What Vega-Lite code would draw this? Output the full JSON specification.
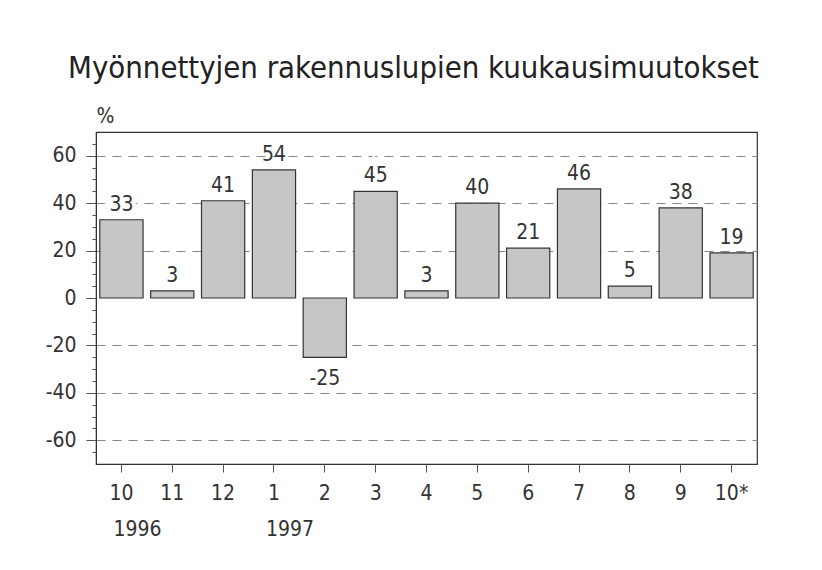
{
  "$schema": "https://vega.github.io/schema/vega-lite/v6.json",
  "autosize": "none",
  "width": 661,
  "height": 332,
  "padding": {"left": 96, "top": 132, "right": 65, "bottom": 106},
  "background": "white",
  "config": {
    "font": "DejaVu Sans Condensed, sans-serif",
    "view": {"stroke": "#333", "strokeWidth": 1.2},
    "axis": {"labelFont": "DejaVu Sans Condensed, sans-serif", "titleFont": "DejaVu Sans Condensed, sans-serif"}
  },
  "title": {
    "text": "Myönnettyjen rakennuslupien kuukausimuutokset",
    "font": "DejaVu Sans Condensed, sans-serif",
    "fontSize": 30.8,
    "fontWeight": "normal",
    "color": "#222",
    "anchor": "start",
    "frame": "group",
    "dx": -28,
    "offset": 20
  },
  "data": {
    "values": [
      {"month": "10", "value": 33, "year": "1996"},
      {"month": "11", "value": 3, "year": ""},
      {"month": "12", "value": 41, "year": ""},
      {"month": "1", "value": 54, "year": "1997"},
      {"month": "2", "value": -25, "year": ""},
      {"month": "3", "value": 45, "year": ""},
      {"month": "4", "value": 3, "year": ""},
      {"month": "5", "value": 40, "year": ""},
      {"month": "6", "value": 21, "year": ""},
      {"month": "7", "value": 46, "year": ""},
      {"month": "8", "value": 5, "year": ""},
      {"month": "9", "value": 38, "year": ""},
      {"month": "10*", "value": 19, "year": ""}
    ]
  },
  "encoding": {
    "x": {
      "field": "month",
      "type": "nominal",
      "sort": null,
      "scale": {"paddingInner": 0.15, "paddingOuter": 0.075},
      "axis": {
        "title": null,
        "labelAngle": 0,
        "labelFontSize": 21,
        "labelColor": "#333",
        "labelPadding": 10,
        "tickSize": 8,
        "tickColor": "#555",
        "domain": false
      }
    }
  },
  "layer": [
    {
      "mark": {"type": "bar", "fill": "#c6c6c6", "stroke": "#333", "strokeWidth": 1.2},
      "encoding": {
        "y": {
          "field": "value",
          "type": "quantitative",
          "scale": {"domain": [-70, 70], "nice": false},
          "axis": {
            "title": "%",
            "titleAngle": 0,
            "titleFontSize": 21,
            "titleFontWeight": "normal",
            "titleColor": "#333",
            "titleAlign": "left",
            "titleBaseline": "alphabetic",
            "titleX": 0,
            "titleY": -10,
            "values": [-65,-60,-55,-50,-45,-40,-35,-30,-25,-20,-15,-10,-5,0,5,10,15,20,25,30,35,40,45,50,55,60,65],
            "tickCount": 60,
            "labelOverlap": false,
            "labelExpr": "datum.value % 20 === 0 ? '' + datum.value : ''",
            "labelFontSize": 21,
            "labelColor": "#333",
            "labelPadding": 10,
            "tickSize": {"condition": {"test": "datum.value % 20 === 0", "value": 10}, "value": 4},
            "tickColor": "#555",
            "domainColor": "#333",
            "grid": true,
            "gridColor": "#888",
            "gridDash": [9, 7],
            "gridWidth": 1.2,
            "gridOpacity": {"condition": {"test": "datum.value % 20 === 0 && datum.value !== 0", "value": 1}, "value": 0}
          }
        }
      }
    },
    {
      "mark": {"type": "rule", "color": "#222", "strokeWidth": 1.3},
      "encoding": {"y": {"datum": 0}}
    },
    {
      "transform": [{"filter": "datum.value >= 0 && datum.value < 50"}],
      "mark": {"type": "text", "baseline": "alphabetic", "dy": -9, "fontSize": 21, "stroke": "white", "strokeWidth": 8, "fill": "white"},
      "encoding": {"y": {"field": "value", "type": "quantitative"}, "text": {"field": "value"}}
    },
    {
      "transform": [{"filter": "datum.value >= 0"}],
      "mark": {"type": "text", "baseline": "alphabetic", "dy": -9, "fontSize": 21, "color": "#333"},
      "encoding": {"y": {"field": "value", "type": "quantitative"}, "text": {"field": "value"}}
    },
    {
      "transform": [{"filter": "datum.value < 0"}],
      "mark": {"type": "text", "baseline": "top", "dy": 11, "fontSize": 21, "color": "#333"},
      "encoding": {"y": {"field": "value", "type": "quantitative"}, "text": {"field": "value"}}
    },
    {
      "transform": [{"filter": "datum.year !== ''"}],
      "mark": {"type": "text", "align": "left", "baseline": "alphabetic", "dx": -8, "dy": 72, "fontSize": 21, "color": "#333"},
      "encoding": {"y": {"datum": -70}, "text": {"field": "year"}}
    }
  ]
}
